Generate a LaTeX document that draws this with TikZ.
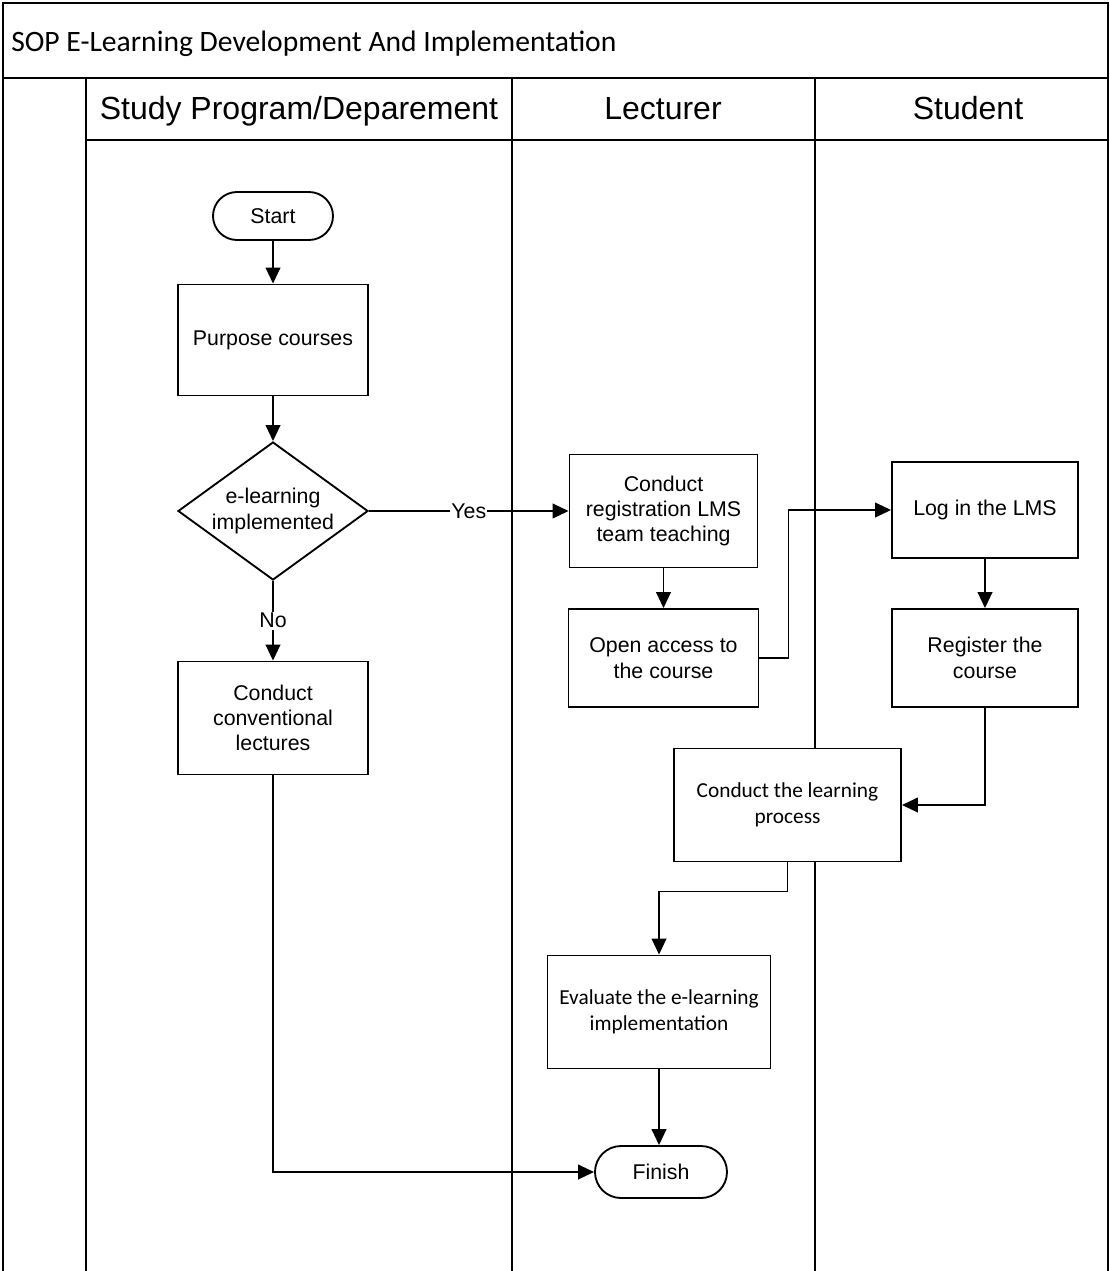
\documentclass[tikz,border=0pt]{standalone}
\usepackage{fontspec}
\usetikzlibrary{shapes.geometric,arrows.meta}
\newfontfamily\arialf{Liberation Sans}
\newfontfamily\calf{Carlito}
\begin{document}
\begin{tikzpicture}[x=0.75pt,y=-0.75pt,
  frame/.style={line width=1.6pt},
  box/.style={draw,fill=white,line width=1.4pt,align=center,inner sep=0pt,font=\arialf\fontsize{16}{19}\selectfont},
  cbox/.style={box,font=\calf\fontsize{16}{19.5}\selectfont},
  dia/.style={draw,fill=white,line width=1.4pt,diamond,inner sep=0pt,minimum width=142.5pt,minimum height=103.5pt},
  txt/.style={align=center,inner sep=0pt,font=\arialf\fontsize{16}{19}\selectfont},
  conn/.style={line width=1.4pt,-{Triangle[length=12pt,width=11pt]}},
  lbl/.style={fill=white,inner sep=1pt,font=\arialf\fontsize{16}{18}\selectfont},
  hdr/.style={inner sep=0pt,anchor=base,font=\arialf\fontsize{24}{28}\selectfont}]
\useasboundingbox (0,0) rectangle (1110,1271);
% frame and lanes
\draw[frame] (3,1271) -- (3,3) -- (1108,3) -- (1108,1271);
\draw[frame] (3,78) -- (1108,78);
\draw[frame] (86,140) -- (1108,140);
\draw[frame] (86,78) -- (86,1271);
\draw[frame] (512,78) -- (512,1271);
\draw[frame] (815,78) -- (815,1271);
\node[anchor=west,inner sep=0pt,font=\calf\fontsize{22.2}{26}\selectfont] (title) at (11,44) {SOP E-Learning Development And Implementation};
\node[hdr] (h1) at (299,119) {Study Program/Deparement};
\node[hdr] (h2) at (663,119) {Lecturer};
\node[hdr] (h3) at (968,119) {Student};
% nodes
\node[box,rounded corners=18pt,minimum width=90pt,minimum height=36pt] (start) at (273,216) {Start};
\node[box,minimum width=142.5pt,minimum height=83.25pt] (purp) at (273,340) {Purpose courses};
\node[dia] (dec) at (273,511) {};
\node[txt] (dectxt) at (273,511) {e-learning\\implemented};
\node[box,minimum width=142.5pt,minimum height=84.75pt] (conv) at (273,718) {Conduct\\conventional\\lectures};
\node[box,minimum width=141pt,minimum height=84.75pt] (creg) at (663.5,511) {Conduct\\registration LMS\\team teaching};
\node[box,minimum width=142.5pt,minimum height=73.5pt] (open) at (663.5,658) {Open access to\\the course};
\node[box,minimum width=139.5pt,minimum height=72pt] (login) at (985,510) {Log in the LMS};
\node[box,minimum width=139.5pt,minimum height=73.5pt] (reg) at (985,658) {Register the\\course};
\node[cbox,minimum width=170.25pt,minimum height=84.75pt] (learn) at (787.5,805) {Conduct the learning\\process};
\node[cbox,minimum width=167.25pt,minimum height=84.75pt] (eval) at (659,1012) {Evaluate the e-learning\\implementation};
\node[box,rounded corners=19.5pt,minimum width=99pt,minimum height=39pt] (fin) at (661,1172) {Finish};
% connectors
\draw[conn] (start) -- (purp);
\draw[conn] (purp) -- (dec.north);
\draw[conn] (dec.east) -- node[lbl] {Yes} (creg.west);
\draw[conn] (dec.south) -- node[lbl] {No} (conv.north);
\draw[conn] (creg) -- (open);
\draw[conn] (open.east) -- ++(29,0) |- (login.west);
\draw[conn] (login) -- (reg);
\draw[conn] (reg.south) |- (learn.east);
\draw[conn] (learn.south) -- ++(0,29) -| (eval.north);
\draw[conn] (eval.south) -- (eval.south |- fin.north);
\draw[conn] (conv.south) |- (fin.west);
\end{tikzpicture}
\end{document}
